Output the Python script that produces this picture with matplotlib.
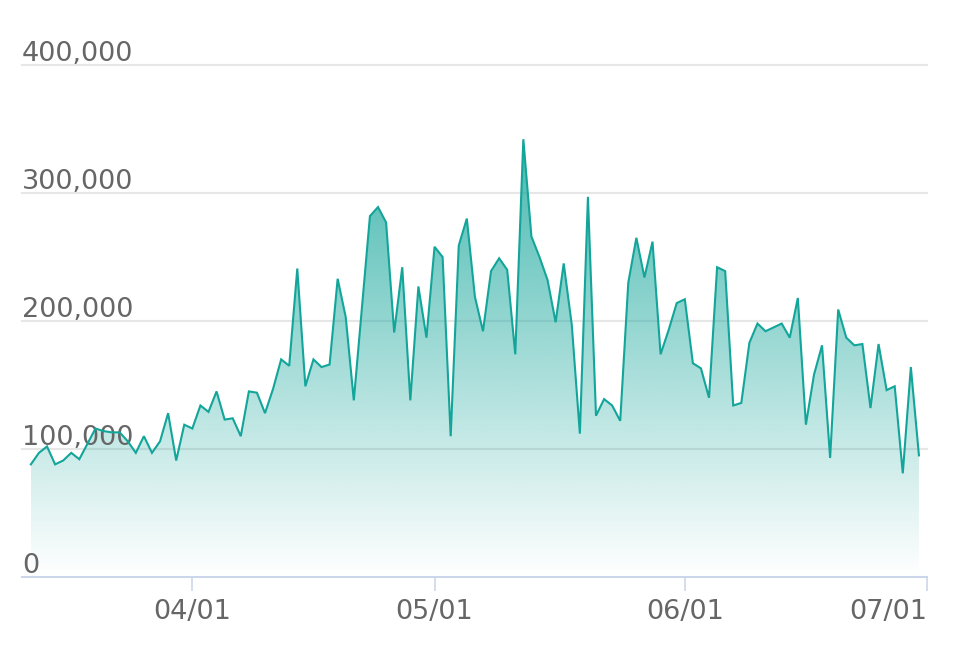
import numpy as np
import pandas as pd
import matplotlib
matplotlib.use("Agg")
import matplotlib.pyplot as plt
import matplotlib.dates as mdates
import matplotlib.transforms as mtransforms

# daily values, 2020-03-12 .. 2020-06-30 (in thousands)
start_date = "2020-03-12"
values_k = [
    88, 97, 102, 88, 91, 97, 92, 104, 116, 114,
    113, 113, 106, 97, 110, 97, 106, 128, 91, 119,
    116, 134, 129, 145, 123, 124, 110, 145, 144, 128,
    147, 170, 165, 241, 149, 170, 164, 166, 233, 203,
    138, 210, 282, 289, 277, 191, 242, 138, 227, 187,
    258, 250, 110, 259, 280, 219, 192, 239, 249, 240,
    174, 342, 266, 250, 232, 199, 245, 197, 112, 297,
    126, 139, 134, 122, 230, 265, 234, 262, 174, 193,
    214, 217, 167, 163, 140, 242, 239, 134, 136, 183,
    198, 192, 195, 198, 187, 218, 119, 158, 181, 93,
    209, 187, 181, 182, 132, 182, 146, 149, 81, 164,
    95,
]
y_ticks = [0, 100000, 200000, 300000, 400000]
x_ticks = ["2020-04-01", "2020-05-01", "2020-06-01", "2020-07-01"]

dates = pd.date_range(start_date, periods=len(values_k), freq="D")
values = np.array(values_k) * 1000.0
x = mdates.date2num(dates)

line_color = "#13a59a"
grid_color = "#e6e6e6"
axis_color = "#ccd6eb"
label_color = "#666666"

fig = plt.figure(figsize=(9.56, 6.52), dpi=100)
ax = fig.add_axes([22 / 956, 1 - 577 / 652, (927 - 22) / 956, (577 - 65) / 652])

# gradient fill clipped to the area under the line
poly = ax.fill_between(x, 0, values, color="none", lw=0)
grad = np.zeros((256, 1, 4))
rgb = matplotlib.colors.to_rgb(line_color)
grad[:, 0, 0:3] = rgb
grad[:, 0, 3] = np.linspace(0.0, 0.78, 256)
img = ax.imshow(grad, origin="lower", aspect="auto",
                extent=[x[0], x[-1], 0, values.max()], zorder=2)
img.set_clip_path(poly.get_paths()[0], transform=ax.transData)

ax.plot(x, values, color=line_color, lw=1.5, zorder=4, solid_joinstyle="miter")

ax.set_xlim(x[0] - 1.1, mdates.date2num(pd.Timestamp("2020-07-01")))
ax.set_ylim(0, 400000)

# y grid + labels above the lines
for v in y_ticks[1:]:
    ax.axhline(v, color=grid_color, lw=1.5, zorder=1, clip_on=False)
ax.set_yticks([])
off = mtransforms.ScaledTranslation(0, 4 / 100, fig.dpi_scale_trans)
trans = mtransforms.blended_transform_factory(ax.transAxes, ax.transData) + off
for v in y_ticks:
    ax.text(0, v, f"{v:,}", transform=trans, ha="left", va="baseline",
            fontsize=19.5, color=label_color)

for s in ["left", "top", "right"]:
    ax.spines[s].set_visible(False)
ax.spines["bottom"].set_color(axis_color)
ax.spines["bottom"].set_linewidth(1.5)

xt = mdates.date2num(pd.to_datetime(x_ticks))
ax.set_xticks(xt)
ax.set_xticklabels(pd.to_datetime(x_ticks).strftime("%m/%d"))
ax.tick_params(axis="x", length=10, width=1.2, color=axis_color,
               labelsize=19.5, labelcolor=label_color, pad=6)
ax.get_xticklabels()[-1].set_ha("right")

fig.savefig("out.png", dpi=100)
